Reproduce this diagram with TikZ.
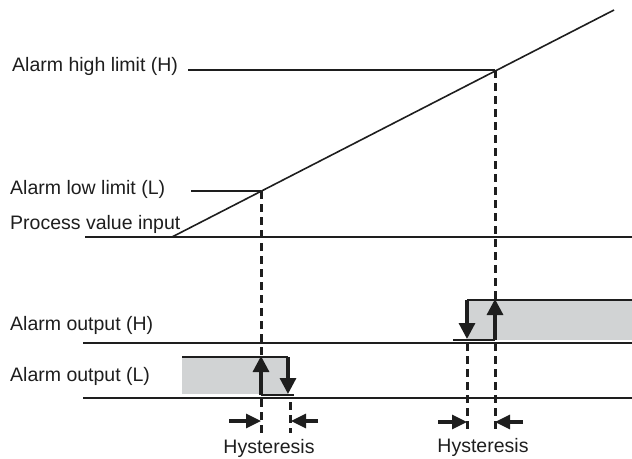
\documentclass[tikz,border=0pt]{standalone}
\usepackage{fontspec}
\setmainfont{Liberation Sans}
\usetikzlibrary{arrows.meta}
\definecolor{boxgray}{RGB}{209,211,212}
\definecolor{ink}{RGB}{30,30,30}
\begin{document}
\begin{tikzpicture}[x=1pt,y=-1pt,
  lbl/.style={anchor=base west, inner sep=0pt, text=ink, font=\fontsize{19.5}{23}\selectfont},
  hlbl/.style={anchor=base, inner sep=0pt, text=ink, font=\fontsize{19.5}{23}\selectfont},
  axisline/.style={draw=ink, line width=1.6pt},
  stepline/.style={draw=ink, line width=2pt},
  dashline/.style={draw=ink, line width=3pt, dash pattern=on 8pt off 5pt},
  bigarrow/.style={draw=ink, line width=3.2pt, -{Triangle[length=16pt,width=16pt]}},
  hystarrow/.style={draw=ink, line width=3.2pt, -{Triangle[length=15pt,width=14pt]}}
]
\useasboundingbox (0,0) rectangle (632,458);

% labels
\node[lbl] (hi)  at (12,71)  {Alarm high limit (H)};
\node[lbl] (lo)  at (10,194) {Alarm low limit (L)};
\node[lbl] (pv)  at (10,229) {Process value input};
\node[lbl] (oh)  at (10,330) {Alarm output (H)};
\node[lbl] (ol)  at (10,381) {Alarm output (L)};
\node[hlbl] (hyl) at (269,453) {Hysteresis};
\node[hlbl] (hyh) at (483,452) {Hysteresis};

% coordinates
\coordinate (d0) at (172,237);
\coordinate (d1) at (614,10);
\coordinate (pL) at (261,191);
\coordinate (pH) at (495,70);
\coordinate (hiS) at (188,70);
\coordinate (loS) at (191,191);
\coordinate (pv0) at (85,237);
\coordinate (pv1) at (632,237);
\coordinate (oh0) at (83,343);
\coordinate (oh1) at (632,343);
\coordinate (ol0) at (83,398);
\coordinate (ol1) at (632,398);

% gray boxes
\fill[boxgray] (182,357) rectangle (288,394);
\fill[boxgray] (468,300) rectangle (632,340);

% main lines
\draw[axisline] (d0) -- (d1);
\draw[axisline] (hiS) -- (pH);
\draw[axisline] (loS) -- (pL);
\draw[axisline] (pv0) -- (pv1);
\draw[axisline] (oh0) -- (oh1);
\draw[axisline] (ol0) -- (ol1);

% dashed verticals
\coordinate (dL1) at (261,433);
\coordinate (dL2a) at (290,402);
\coordinate (dL2b) at (290,433);
\coordinate (dH1a) at (467,343);
\coordinate (dH1b) at (467,433);
\coordinate (dH2) at (495,433);
\draw[dashline] (pL) -- (dL1);
\draw[dashline] (dL2a) -- (dL2b);
\draw[dashline] (dH1a) -- (dH1b);
\draw[dashline] (pH) -- (dH2);

% low alarm output steps
\coordinate (lt0) at (182,357);
\coordinate (lt1) at (288,357);
\coordinate (ld1) at (288,394);
\coordinate (lb0) at (261,395);
\coordinate (lb1) at (294,395);
\coordinate (lu1) at (261,356);
\draw[stepline] (lt0) -- (lt1);
\draw[stepline] (lb0) -- (lb1);
\draw[bigarrow] (lt1) -- (ld1);
\draw[bigarrow] (lb0) -- (lu1);

% high alarm output steps
\coordinate (ht0) at (467,300);
\coordinate (ht1) at (632,300);
\coordinate (hd1) at (467,339);
\coordinate (hb0) at (453,340);
\coordinate (hb1) at (495,340);
\coordinate (hu1) at (495,299);
\draw[stepline] (ht0) -- (ht1);
\draw[stepline] (hb0) -- (hb1);
\draw[bigarrow] (ht0) -- (hd1);
\draw[bigarrow] (hb1) -- (hu1);

% hysteresis arrows
\coordinate (a1s) at (229,421); \coordinate (a1e) at (261,421);
\coordinate (a2s) at (318,421); \coordinate (a2e) at (291,421);
\coordinate (a3s) at (438,422); \coordinate (a3e) at (467,422);
\coordinate (a4s) at (523,422); \coordinate (a4e) at (495,422);
\draw[hystarrow] (a1s) -- (a1e);
\draw[hystarrow] (a2s) -- (a2e);
\draw[hystarrow] (a3s) -- (a3e);
\draw[hystarrow] (a4s) -- (a4e);
\end{tikzpicture}
\end{document}
